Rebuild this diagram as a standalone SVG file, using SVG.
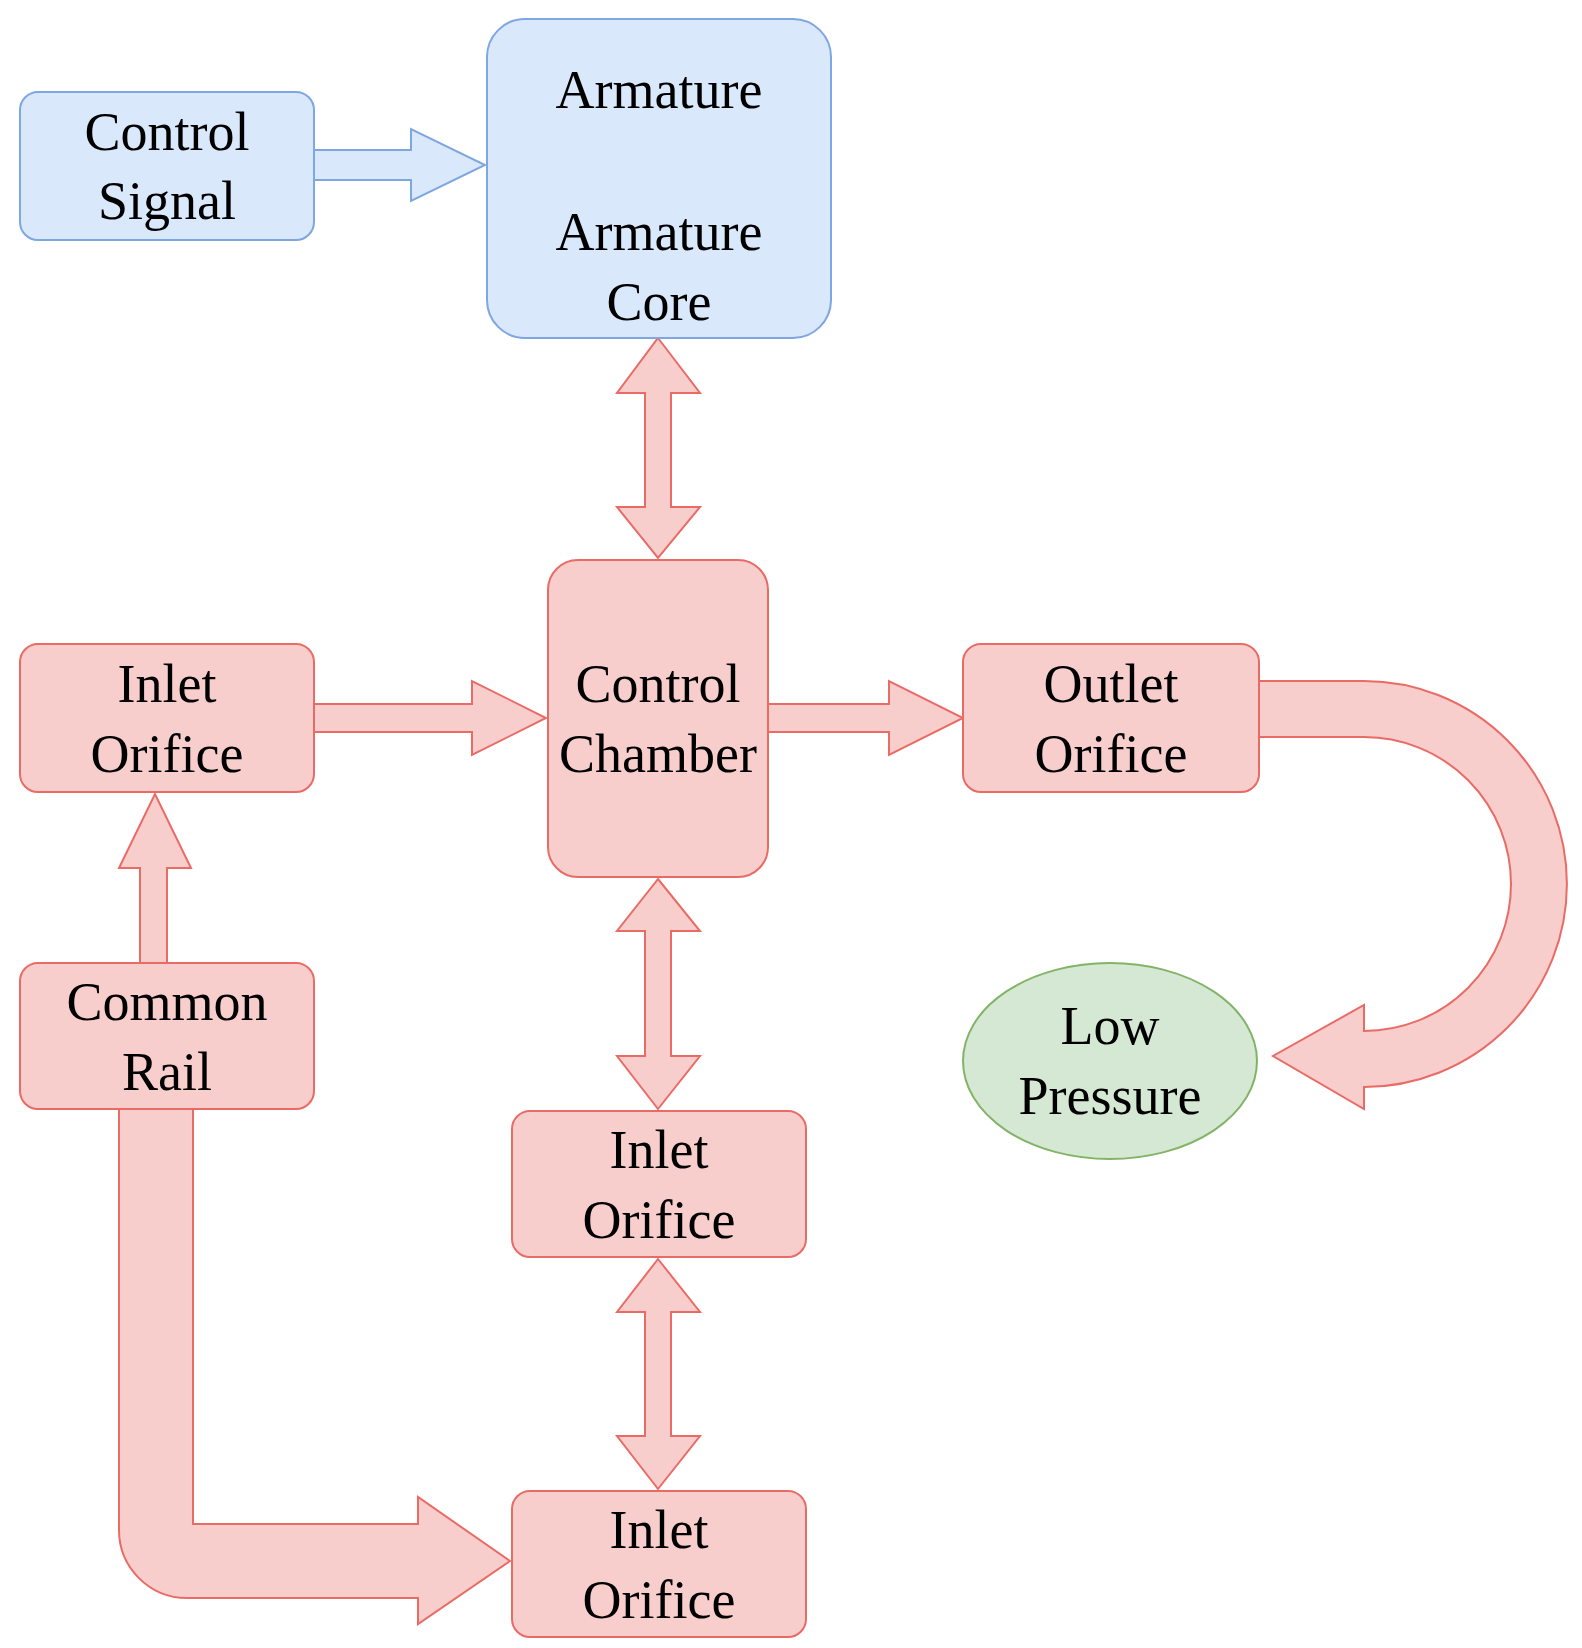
<svg xmlns="http://www.w3.org/2000/svg" width="1582" height="1648" viewBox="0 0 1582 1648">
<style>
.r{fill:#f8cecc;stroke:#ea6b66;stroke-width:2}
.b{fill:#dae8fc;stroke:#7ea6e0;stroke-width:2}
.g{fill:#d5e8d4;stroke:#82b366;stroke-width:2}
text{font-family:"Liberation Serif","Times New Roman",serif;font-size:54px;fill:#000;text-anchor:middle}
</style>
<rect width="1582" height="1648" fill="#fff"/>
<g id="connectors">
<path class="b" d="M314,150 H411 V129 L485,165 L411,201 V180 H314 Z"/>
<path class="r" d="M658,338 L700,393 H671 V507 H700 L658,558 L617,507 H645 V393 H617 Z"/>
<path class="r" d="M658,879 L700,931 H671 V1056 H700 L658,1109 L617,1056 H645 V931 H617 Z"/>
<path class="r" d="M658,1259 L700,1312 H671 V1436 H700 L658,1489 L617,1436 H645 V1312 H617 Z"/>
<path class="r" d="M302,704 H472 V681 L546,718 L472,755 V732 H302 Z"/>
<path class="r" d="M768,704 H889 V681 L963,718 L889,755 V732 H768 Z"/>
<path class="r" d="M140,963 V868 H119 L155,794 L191,868 H167 V963 Z"/>
<path class="r" d="M1259,681 H1364 A203,203 0 0 1 1364,1087 V1109 L1273,1056 L1364,1005 V1031 A147,147 0 0 0 1364,737 H1259 Z"/>
<path class="r" d="M119,1109 V1530 A68,68 0 0 0 187,1598 H418 V1624 L510,1561 L418,1497 V1524 H193 V1109 Z"/>
</g>
<g id="control-signal"><rect class="b" x="20" y="92" width="294" height="148" rx="18"/><text x="167" y="150">Control</text><text x="167" y="219">Signal</text></g>
<g id="armature"><rect class="b" x="487" y="19" width="344" height="319" rx="38"/><text x="659" y="108">Armature</text><text x="659" y="250">Armature</text><text x="659" y="320">Core</text></g>
<g id="control-chamber"><rect class="r" x="548" y="560" width="220" height="317" rx="30"/><text x="658" y="702">Control</text><text x="658" y="772">Chamber</text></g>
<g id="inlet-left"><rect class="r" x="20" y="644" width="294" height="148" rx="18"/><text x="167" y="702">Inlet</text><text x="167" y="772">Orifice</text></g>
<g id="outlet"><rect class="r" x="963" y="644" width="296" height="148" rx="18"/><text x="1111" y="702">Outlet</text><text x="1111" y="772">Orifice</text></g>
<g id="common-rail"><rect class="r" x="20" y="963" width="294" height="146" rx="18"/><text x="167" y="1020">Common</text><text x="167" y="1090">Rail</text></g>
<g id="inlet-mid"><rect class="r" x="512" y="1111" width="294" height="146" rx="18"/><text x="659" y="1168">Inlet</text><text x="659" y="1238">Orifice</text></g>
<g id="inlet-bottom"><rect class="r" x="512" y="1491" width="294" height="146" rx="18"/><text x="659" y="1548">Inlet</text><text x="659" y="1618">Orifice</text></g>
<g id="low-pressure"><ellipse class="g" cx="1110" cy="1061" rx="147" ry="98"/><text x="1110" y="1044">Low</text><text x="1110" y="1114">Pressure</text></g>
</svg>
